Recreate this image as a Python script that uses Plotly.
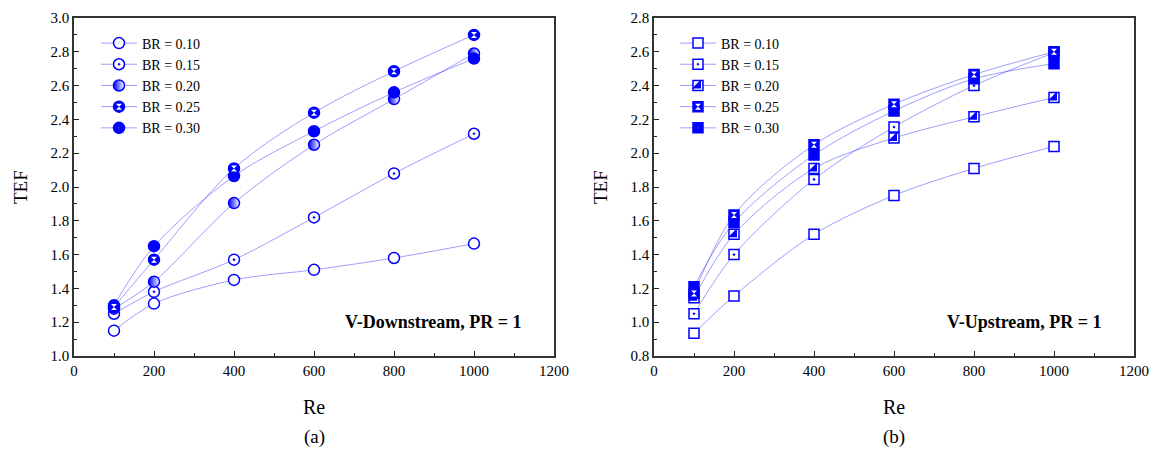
import plotly.graph_objects as go

re_vals = [100, 200, 400, 600, 800, 1000]
br_labels = ["BR = 0.10", "BR = 0.15", "BR = 0.20", "BR = 0.25", "BR = 0.30"]

# (a) V-Downstream
tef_down_010 = [1.15, 1.31, 1.45, 1.51, 1.58, 1.665]
tef_down_015 = [1.25, 1.38, 1.57, 1.82, 2.08, 2.315]
tef_down_020 = [1.28, 1.44, 1.905, 2.25, 2.52, 2.79]
tef_down_025 = [1.29, 1.57, 2.11, 2.44, 2.685, 2.90]
tef_down_030 = [1.30, 1.65, 2.065, 2.33, 2.56, 2.76]

# (b) V-Upstream
tef_up_010 = [0.935, 1.155, 1.52, 1.75, 1.91, 2.04]
tef_up_015 = [1.05, 1.40, 1.845, 2.155, 2.40, 2.595]
tef_up_020 = [1.145, 1.52, 1.91, 2.09, 2.215, 2.33]
tef_up_025 = [1.17, 1.635, 2.05, 2.29, 2.465, 2.60]
tef_up_030 = [1.21, 1.59, 1.99, 2.25, 2.44, 2.53]

BLUE = "#0000ff"
LINE = "rgba(40,40,255,0.45)"
FONT = "Liberation Serif, Times New Roman, serif"

fig = go.Figure()

down = [tef_down_010, tef_down_015, tef_down_020, tef_down_025, tef_down_030]
up = [tef_up_010, tef_up_015, tef_up_020, tef_up_025, tef_up_030]

left_markers = [
    dict(symbol="circle", size=11, color="white", line=dict(color=BLUE, width=1.5)),
    dict(symbol="circle-dot", size=11, color="white", line=dict(color=BLUE, width=1.5)),
    dict(symbol="circle", size=11, color=BLUE, line=dict(color=BLUE, width=1.5),
         gradient=dict(type="horizontal", color="white")),
    dict(symbol="circle", size=11, color=BLUE, line=dict(color=BLUE, width=1.5)),
    dict(symbol="circle", size=11, color=BLUE, line=dict(color=BLUE, width=1.5)),
]
right_markers = [
    dict(symbol="square", size=10, color="white", line=dict(color=BLUE, width=1.5)),
    dict(symbol="square-dot", size=10, color="white", line=dict(color=BLUE, width=1.5)),
    dict(symbol="square", size=10, color="white", line=dict(color=BLUE, width=1.5)),
    dict(symbol="square", size=10, color=BLUE, line=dict(color=BLUE, width=1.5)),
    dict(symbol="square", size=10, color=BLUE, line=dict(color=BLUE, width=1.5)),
]

for i, (lab, ys) in enumerate(zip(br_labels, down)):
    fig.add_trace(go.Scatter(
        x=re_vals, y=ys, name=lab, mode="lines+markers",
        line=dict(color=LINE, width=1, shape="spline", smoothing=0.9),
        marker=left_markers[i], xaxis="x", yaxis="y", legend="legend"))
for i, (lab, ys) in enumerate(zip(br_labels, up)):
    fig.add_trace(go.Scatter(
        x=re_vals, y=ys, name=lab, mode="lines+markers",
        line=dict(color=LINE, width=1, shape="spline", smoothing=0.9),
        marker=right_markers[i], xaxis="x2", yaxis="y2", legend="legend2"))

# overlays for composite symbols (also mirrored in an overlay legend)
hour_w = dict(symbol="hourglass", size=6, color="white", line=dict(width=0))
tri_b = dict(symbol="triangle-se", size=10, color=BLUE, line=dict(width=0))
left_over = [None, None, None, (tef_down_025, hour_w), None]
right_over = [None, None, (tef_up_020, tri_b), (tef_up_025, hour_w), None]

for over, xa, ya, lg in [(left_over, "x", "y", "legend3"), (right_over, "x2", "y2", "legend4")]:
    for item in over:
        if item is None:
            fig.add_trace(go.Scatter(x=[None], y=[None], mode="markers", name=" ",
                                     marker=dict(size=1, opacity=0), xaxis=xa, yaxis=ya,
                                     legend=lg, showlegend=True, hoverinfo="skip"))
        else:
            ys, mk = item
            fig.add_trace(go.Scatter(x=re_vals, y=ys, mode="markers", name=" ", marker=mk,
                                     xaxis=xa, yaxis=ya, legend=lg, showlegend=True,
                                     hoverinfo="skip"))

def xax(domain, anchor):
    return dict(domain=domain, anchor=anchor, range=[0, 1200], dtick=200, tick0=0,
                automargin=False,
                ticks="inside", ticklen=5, tickcolor="#222", showline=True, linecolor="#333",
                linewidth=1.5, mirror=True, showgrid=False, zeroline=False,
                tickfont=dict(family=FONT, size=15, color="black"),
                minor=dict(dtick=100, ticks="inside", ticklen=3, tickcolor="#222", showgrid=False))

def yax(rng, anchor):
    return dict(anchor=anchor, range=rng, dtick=0.2, tick0=0, tickformat=".1f",
                automargin=False,
                ticks="inside", ticklen=5, tickcolor="#222", showline=True, linecolor="#333",
                linewidth=1.5, mirror=True, showgrid=False, zeroline=False,
                tickfont=dict(family=FONT, size=15, color="black"),
                minor=dict(dtick=0.1, ticks="inside", ticklen=3, tickcolor="#222", showgrid=False))

W = 1154.0
leg_common = dict(xanchor="left", yanchor="top", bgcolor="rgba(0,0,0,0)",
                  font=dict(family=FONT, size=14, color="black"), itemwidth=36, tracegroupgap=0)
fig.update_layout(
    width=1154, height=451,
    margin=dict(l=0, r=0, t=18, b=95, autoexpand=False),
    paper_bgcolor="white", plot_bgcolor="white",
    font=dict(family=FONT, color="black"),
    xaxis=xax([74 / W, 554 / W], "y"),
    yaxis=yax([1.0, 3.0], "x"),
    xaxis2=xax([654 / W, 1134 / W], "y2"),
    yaxis2=yax([0.8, 2.8], "x2"),
    legend=dict(x=96 / W, y=0.972, **leg_common),
    legend2=dict(x=675 / W, y=0.972, **leg_common),
    legend3=dict(x=96 / W, y=0.972, **leg_common),
    legend4=dict(x=675 / W, y=0.972, **leg_common),
    showlegend=True,
)

ann = [
    dict(text="<b>V-Downstream, PR = 1</b>", x=524 / W, y=0.10, xanchor="right", yanchor="middle", size=18),
    dict(text="<b>V-Upstream, PR = 1</b>", x=1104 / W, y=0.10, xanchor="right", yanchor="middle", size=18),
    dict(text="Re", x=314 / W, y=-51 / 338, xanchor="center", yanchor="middle", size=20),
    dict(text="Re", x=894 / W, y=-51 / 338, xanchor="center", yanchor="middle", size=20),
    dict(text="(a)", x=314 / W, y=-81 / 338, xanchor="center", yanchor="middle", size=19),
    dict(text="(b)", x=894 / W, y=-81 / 338, xanchor="center", yanchor="middle", size=19),
]
for a in ann:
    fig.add_annotation(text=a["text"], x=a["x"], y=a["y"], xref="paper", yref="paper",
                       xanchor=a["xanchor"], yanchor=a["yanchor"], showarrow=False,
                       font=dict(family=FONT, size=a["size"], color="black"))
for xp in [20 / W, 600 / W]:
    fig.add_annotation(text="TEF", x=xp, y=0.5, xref="paper", yref="paper", textangle=-90,
                       xanchor="center", yanchor="middle", showarrow=False,
                       font=dict(family=FONT, size=19, color="black"))

fig.write_html("out.html", config={"displayModeBar": False},
               post_script="document.body.style.margin='0';document.body.style.overflow='hidden';")
